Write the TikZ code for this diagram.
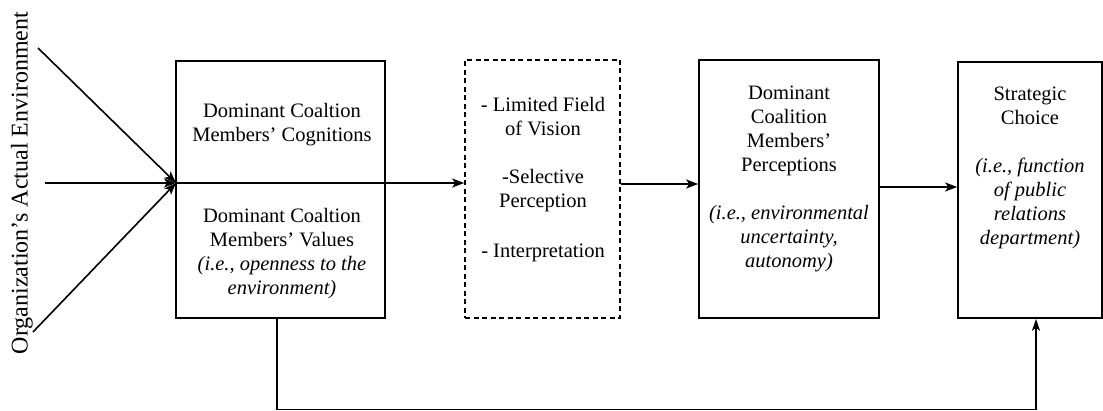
\documentclass[tikz,border=0pt]{standalone}
\usepackage{fontspec}
\setmainfont{Liberation Serif}
\usetikzlibrary{arrows.meta}
\begin{document}
\begin{tikzpicture}[x=1pt,y=-1pt,
  box/.style={draw, line width=1.6pt, inner sep=0pt},
  dbox/.style={box, dash pattern=on 5pt off 3.5pt},
  % anchor=base of a multi-line label sits on its last line
  lbl/.style={align=center, inner sep=0pt, font=\fontsize{20.5}{24}\selectfont, anchor=base},
  flow/.style={line width=1.6pt, -{Stealth[length=12pt,width=9pt,inset=3pt]}},
  back/.style={line width=1.4pt, -{Stealth[length=12pt,width=8pt,inset=3pt]}},
]
\useasboundingbox (0,0) rectangle (1103,411);

% environment label
\node[rotate=90, inner sep=0pt, font=\fontsize{24}{28}\selectfont] (env) at (22,183)
  {Organization's Actual Environment};

% boxes
\node[box, minimum width=209pt, minimum height=257pt] (cog) at (280.5,189.5) {};
\node[dbox, minimum width=155pt, minimum height=258pt] (filt) at (542.5,189) {};
\node[box, minimum width=180pt, minimum height=258pt] (perc) at (789,189) {};
\node[box, minimum width=144pt, minimum height=256pt] (choice) at (1030,190) {};

% box texts
\node[lbl] (cogA) at (282,142) {Dominant Coaltion\\Members' Cognitions};
\node[lbl] (cogB) at (282,295) {Dominant Coaltion\\Members' Values\\
  \textit{(i.e., openness to the}\\\textit{environment)}};
\node[lbl] (filtA) at (543,136) {- Limited Field\\of Vision};
\node[lbl] (filtB) at (543,208) {-Selective\\Perception};
\node[lbl] (filtC) at (543,258) {- Interpretation};
\node[lbl] (percA) at (789,172) {Dominant\\Coalition\\Members'\\Perceptions};
\node[lbl] (percB) at (789,268) {\textit{(i.e., environmental}\\\textit{uncertainty,}\\\textit{autonomy)}};
\node[lbl] (choiceA) at (1030,125) {Strategic\\Choice};
\node[lbl] (choiceB) at (1030,245) {\textit{(i.e., function}\\\textit{of public}\\\textit{relations}\\\textit{department)}};

% inputs from the environment
\coordinate (s1) at (38,48);
\coordinate (s2) at (45,183);
\coordinate (s3) at (33,332);
\coordinate (j) at (176,183);
\draw[flow] (s1) -- (j);
\draw[flow] (s2) -- (j);
\draw[flow] (s3) -- (j);

% main flow
\draw[flow] (j) -- (j -| filt.west);
\draw[flow] ([yshift=5pt]filt.east) -- ([yshift=5pt]filt.east -| perc.west);
\draw[flow] ([yshift=2pt]perc.east) -- ([yshift=2pt]perc.east -| choice.west);

% feedback from values to strategic choice
\draw[back] ([xshift=-3.5pt]cog.south) -- ++(0,91) -| ([xshift=6pt]choice.south);
\end{tikzpicture}
\end{document}
